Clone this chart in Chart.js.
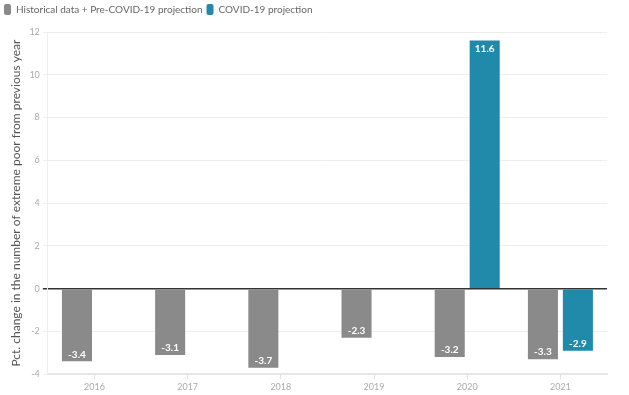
<!DOCTYPE html>
<html>
<head>
<meta charset="utf-8">
<script src="https://cdn.jsdelivr.net/npm/chart.js@4"></script>
<style>
  html, body { margin: 0; padding: 0; background: #fff; }
  #wrap { width: 629px; height: 395px; }
</style>
</head>
<body>
<div id="wrap"><canvas id="chart"></canvas></div>
<script>
const years = ["2016", "2017", "2018", "2019", "2020", "2021"];
const preCovid = [-3.4, -3.1, -3.7, -2.3, -3.2, -3.3];
const covid = [null, null, null, null, 11.6, -2.9];
const yTicks = [-4, -2, 0, 2, 4, 6, 8, 10, 12];

const GRAY = "#8a8a8a";
const BLUE = "#2189aa";
const FONT = "Lato, 'Open Sans', sans-serif";

// white value labels inside the end of each bar
const barLabels = {
    id: "barLabels",
    afterDatasetsDraw(chart) {
        const ctx = chart.ctx;
        ctx.save();
        ctx.fillStyle = "#fff";
        ctx.font = "bold 10px " + FONT;
        ctx.textAlign = "center";
        ctx.textBaseline = "middle";
        chart.data.datasets.forEach((ds, i) => {
            chart.getDatasetMeta(i).data.forEach((bar, j) => {
                const v = ds.data[j];
                if (v === null || v === undefined) return;
                const y = v < 0 ? bar.y - 7 : bar.y + 8;
                ctx.fillText(v.toFixed(1), bar.x, y);
            });
        });
        ctx.restore();
    }
};

// a bit of room between legend and plot
const legendGap = {
    id: "legendGap",
    beforeInit(chart) {
        const fit = chart.legend.fit;
        chart.legend.fit = function () {
            fit.bind(chart.legend)();
            this.height += 7;
        };
    }
};

new Chart(document.getElementById("chart").getContext("2d"), {
    type: "bar",
    data: {
        labels: years,
        datasets: [{
            label: "Historical data + Pre-COVID-19 projection",
            data: preCovid,
            backgroundColor: GRAY,
            categoryPercentage: 0.75,
            barPercentage: 0.86
        }, {
            label: "COVID-19 projection",
            data: covid,
            backgroundColor: BLUE,
            categoryPercentage: 0.75,
            barPercentage: 0.86
        }]
    },
    options: {
        responsive: true,
        maintainAspectRatio: false,
        animation: false,
        layout: { padding: { top: 0, right: 22, bottom: 1, left: 0 } },
        plugins: {
            legend: {
                position: "top",
                align: "start",
                labels: {
                    boxWidth: 7,
                    boxHeight: 11,
                    useBorderRadius: true,
                    borderRadius: 2,
                    padding: 4,
                    color: "#666",
                    font: { family: FONT, size: 10 }
                }
            },
            tooltip: { enabled: false }
        },
        scales: {
            x: {
                grid: {
                    offset: false,
                    drawOnChartArea: false,
                    drawTicks: true,
                    tickLength: 5,
                    color: "#e2e2e2"
                },
                border: { color: "#e6e6e6", width: 2 },
                ticks: { color: "#aaa", font: { family: FONT, size: 9 }, padding: 2 }
            },
            y: {
                min: -4,
                max: 12,
                afterBuildTicks: axis => { axis.ticks = yTicks.map(v => ({ value: v })); },
                grid: {
                    color: c => c.tick && c.tick.value === 0 ? "#333" : "#eeeeee",
                    lineWidth: c => c.tick && c.tick.value === 0 ? 1.5 : 1,
                    tickLength: 5
                },
                border: { color: "#eeeeee" },
                ticks: { color: "#aaa", font: { family: FONT, size: 9 }, padding: 3 },
                title: {
                    display: true,
                    text: "Pct. change in the number of extreme poor from previous year",
                    color: "#555",
                    font: { family: FONT, size: 12 },
                    padding: { top: 9, bottom: 3 }
                }
            }
        }
    },
    plugins: [barLabels, legendGap]
});
</script>
</body>
</html>
